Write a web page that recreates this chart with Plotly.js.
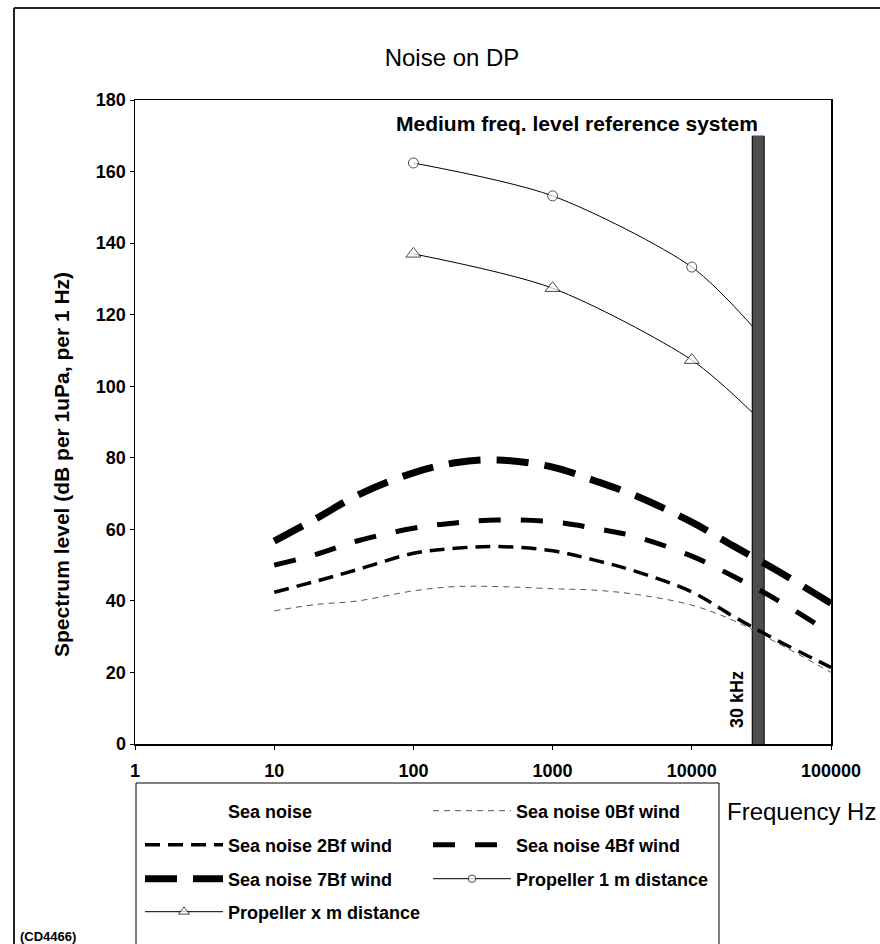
<!DOCTYPE html>
<html>
<head>
<meta charset="utf-8">
<script src="https://cdn.plot.ly/plotly-3.0.1.min.js"></script>
<style>html,body{margin:0;padding:0;background:#fff;}#chart{width:880px;height:944px;}</style>
</head>
<body>
<div id="chart"></div>
<script>
// ---- data ----
const seaFreq = [10, 20, 40, 100, 200, 400, 1000, 2000, 4000, 10000, 20000, 40000, 100000];
const sea0Bf = [37.2, 39.0, 40.0, 42.8, 44.0, 44.0, 43.4, 43.0, 41.8, 38.8, 34.5, 28.5, 20.0];
const sea2Bf = [42.4, 45.5, 48.8, 53.3, 54.7, 55.2, 54.0, 51.4, 48.2, 42.5, 35.6, 29.2, 21.4];
const sea4Bf = [50.0, 53.0, 56.8, 60.3, 61.8, 62.6, 62.1, 60.3, 57.9, 52.5, 46.8, 40.5, 30.9];
const sea7Bf = [56.7, 63.0, 69.6, 75.8, 78.6, 79.4, 77.4, 73.6, 69.3, 62.0, 55.3, 48.7, 39.3];

const propFreq = [100, 1000, 10000, 27500];
const prop1m = [162.4, 153.2, 133.3, 116.6];
const propXm = [137.0, 127.4, 107.3, 92.5];

const refFreq = [30000, 30000];
const refLevel = [0, 170];

const xTickVals = [1, 10, 100, 1000, 10000, 100000];
const xTickText = ['1', '10', '100', '1000', '10000', '100000'];

const FONT = 'Liberation Sans, Arial, Helvetica, sans-serif';
const bold = (s) => ({family: FONT, size: s, color: '#000', weight: 'bold'});

const traces = [
  {x: refFreq, y: refLevel, mode: 'lines', line: {color: '#000', width: 13}, showlegend: false, hoverinfo: 'skip'},
  {x: refFreq, y: refLevel, mode: 'lines', line: {color: '#4d4d4d', width: 11}, showlegend: false, hoverinfo: 'skip'},
  {x: propFreq, y: prop1m, name: 'Propeller 1 m distance', mode: 'lines+markers', legend: 'legend3', legendrank: 2,
   line: {color: '#000', width: 1, shape: 'spline', smoothing: 0.8},
   marker: {symbol: 'circle', size: [10, 10, 10, 0], color: '#fff', line: {color: '#000', width: 1}}},
  {x: propFreq, y: propXm, name: 'Propeller x m distance', mode: 'lines+markers', legend: 'legend4', legendrank: 1,
   line: {color: '#000', width: 1, shape: 'spline', smoothing: 0.8},
   marker: {symbol: 'triangle-up', size: [13, 13, 13, 0], color: '#fff', line: {color: '#000', width: 1}}},
  {x: [null], y: [null], name: 'Sea noise', mode: 'lines', legend: 'legend', legendrank: 1,
   line: {color: 'rgba(0,0,0,0)', width: 1}},
  {x: seaFreq, y: sea0Bf, name: 'Sea noise 0Bf wind', mode: 'lines', legend: 'legend', legendrank: 2,
   line: {color: '#555', width: 1, dash: '6px,5px', shape: 'spline', smoothing: 1}},
  {x: seaFreq, y: sea2Bf, name: 'Sea noise 2Bf wind', mode: 'lines', legend: 'legend2', legendrank: 1,
   line: {color: '#000', width: 3.5, dash: '15px,8px', shape: 'spline', smoothing: 1}},
  {x: seaFreq, y: sea4Bf, name: 'Sea noise 4Bf wind', mode: 'lines', legend: 'legend2', legendrank: 2,
   line: {color: '#000', width: 5, dash: '22px,20px', shape: 'spline', smoothing: 1}},
  {x: seaFreq, y: sea7Bf, name: 'Sea noise 7Bf wind', mode: 'lines', legend: 'legend3', legendrank: 1,
   line: {color: '#000', width: 7, dash: '32px,16px', shape: 'spline', smoothing: 1}}
];

const L = 135, R = 831, T = 100, B = 744;
const px = (v) => (v - L) / (R - L);
const py = (v) => (B - v) / (B - T);

const legendBase = {
  orientation: 'h', entrywidth: 195, entrywidthmode: 'pixels', itemwidth: 78,
  x: px(140), xanchor: 'left', yanchor: 'middle', traceorder: 'normal',
  bgcolor: 'rgba(0,0,0,0)', borderwidth: 0, font: bold(18)
};

const layout = {
  width: 880, height: 944,
  margin: {l: L, r: 880 - R, t: T, b: 944 - B, pad: 0, autoexpand: false},
  paper_bgcolor: '#fff', plot_bgcolor: '#fff',
  font: {family: FONT, color: '#000'},
  title: {text: 'Noise on DP', x: 452 / 880, xref: 'container', xanchor: 'center',
          y: 1 - 58 / 944, yref: 'container', yanchor: 'middle', font: {family: FONT, size: 24, color: '#000'}},
  xaxis: {type: 'log', range: [0, 5], tickvals: xTickVals, ticktext: xTickText,
          showline: true, linecolor: '#000', linewidth: 1.5, mirror: true, showgrid: false, zeroline: false,
          ticks: 'outside', ticklen: 4, tickcolor: '#000', tickfont: bold(18), ticklabelstandoff: 6},
  yaxis: {range: [0, 180], dtick: 20, showline: true, linecolor: '#000', linewidth: 1.5, mirror: true,
          showgrid: false, zeroline: false, ticks: 'outside', ticklen: 4, tickcolor: '#000', tickfont: bold(18)},
  legend: Object.assign({}, legendBase, {y: py(811)}),
  legend2: Object.assign({}, legendBase, {y: py(845)}),
  legend3: Object.assign({}, legendBase, {y: py(879)}),
  legend4: Object.assign({}, legendBase, {y: py(912)}),
  shapes: [
    {type: 'line', xref: 'paper', yref: 'paper', x0: px(14), x1: px(14), y0: py(8), y1: py(960), line: {color: '#222', width: 2}},
    {type: 'line', xref: 'paper', yref: 'paper', x0: px(14), x1: px(900), y0: py(8), y1: py(8), line: {color: '#222', width: 2}},
    {type: 'rect', xref: 'paper', yref: 'paper', x0: px(136), x1: px(719), y0: py(783), y1: py(960), line: {color: '#000', width: 1}, fillcolor: 'rgba(0,0,0,0)'}
  ],
  annotations: [
    {text: 'Medium freq. level reference system', xref: 'paper', yref: 'paper', x: px(577), y: py(124),
     xanchor: 'center', yanchor: 'middle', showarrow: false, font: bold(21)},
    {text: '30 kHz', xref: 'paper', yref: 'paper', x: px(737), y: py(700), textangle: -90,
     xanchor: 'center', yanchor: 'middle', showarrow: false, font: bold(18)},
    {text: 'Spectrum level (dB per 1uPa, per 1 Hz)', xref: 'paper', yref: 'paper', x: px(61), y: py(465), textangle: -90,
     xanchor: 'center', yanchor: 'middle', showarrow: false, font: bold(21)},
    {text: 'Frequency Hz', xref: 'paper', yref: 'paper', x: px(801), y: py(811),
     xanchor: 'center', yanchor: 'middle', showarrow: false, font: {family: FONT, size: 24, color: '#000'}},
    {text: '(CD4466)', xref: 'paper', yref: 'paper', x: px(18), y: py(936),
     xanchor: 'left', yanchor: 'middle', showarrow: false, font: bold(13)}
  ]
};

Plotly.newPlot('chart', traces, layout, {staticPlot: true, displayModeBar: false});
</script>
</body>
</html>
